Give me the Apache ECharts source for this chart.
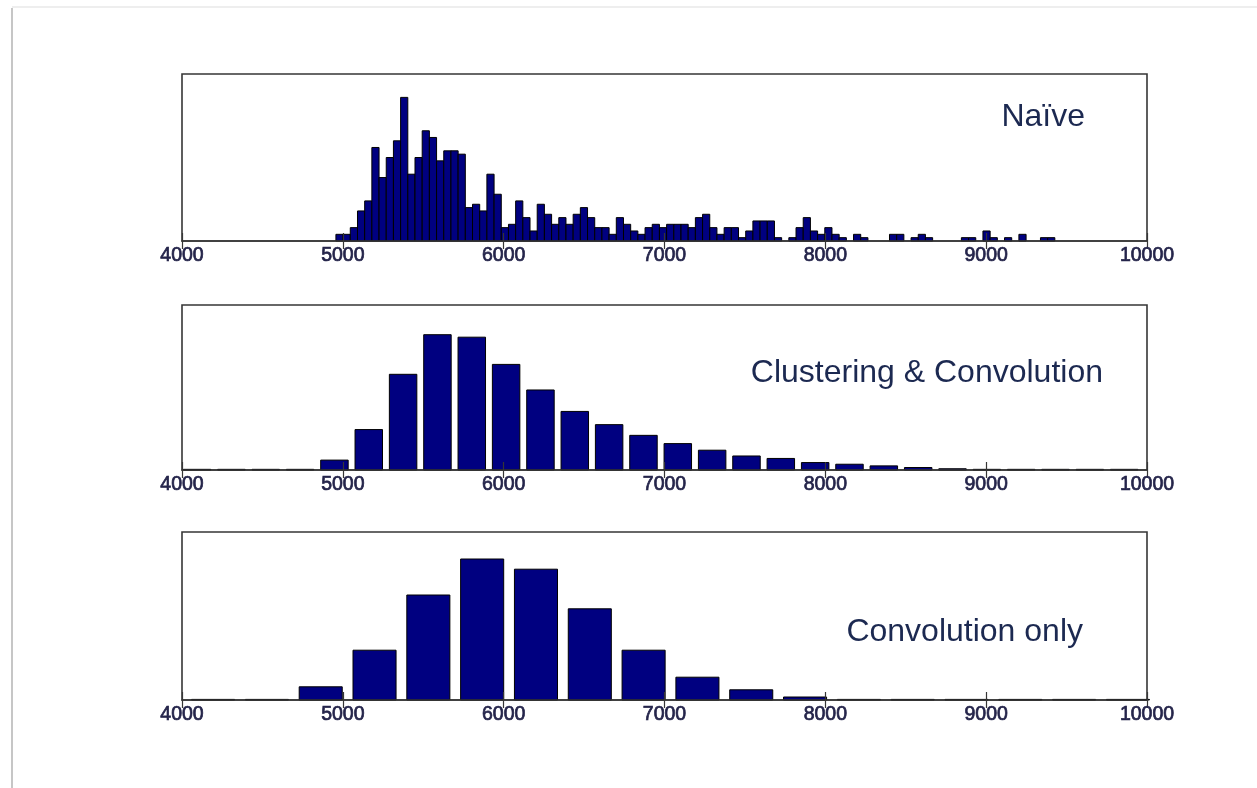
<!DOCTYPE html>
<html>
<head>
<meta charset="utf-8">
<title>Histograms</title>
<script src="https://cdn.jsdelivr.net/npm/echarts@6/dist/echarts.min.js"></script>
<style>
  html, body { margin: 0; padding: 0; background: #ffffff; }
  #chart { width: 1257px; height: 788px; }
</style>
</head>
<body>
<div id="chart"></div>
<script>
// ---- data ----
// x-axis tick values shared by all three panels
const xTicks = [4000, 5000, 6000, 7000, 8000, 9000, 10000];

// Panel 1: naive histogram, 100 bins starting at naiveStart
const naiveStart = 4957;
const naiveBinWidth = 44.7;
const naiveCounts = [
  2, 2, 4, 9, 12, 28, 19, 25, 30, 43,
  20, 25, 33, 31, 24, 27, 27, 26, 10, 11,
  9, 20, 14, 4, 5, 12, 7, 3, 11, 8,
  5, 7, 5, 8, 10, 7, 4, 4, 2, 7,
  5, 3, 2, 4, 5, 4, 5, 5, 5, 4,
  7, 8, 4, 2, 4, 4, 1, 3, 6, 6,
  6, 1, 0, 1, 4, 7, 3, 2, 4, 2,
  1, 0, 2, 1, 0, 0, 0, 2, 2, 0,
  1, 2, 1, 0, 0, 0, 0, 1, 1, 0,
  3, 1, 0, 1, 0, 2, 0, 0, 1, 1
];

// Panel 2: clustering & convolution, 28 bins
const clusterStart = 3987;
const clusterBinWidth = 213.5;
const clusterProb = [
  0.0008, 0.0008, 0.0008, 0.0008, 0.012, 0.049, 0.116, 0.164, 0.161, 0.128,
  0.097, 0.071, 0.055, 0.042, 0.032, 0.024, 0.017, 0.014, 0.009, 0.007,
  0.005, 0.003, 0.0015, 0.0008, 0.0008, 0.0008, 0.0008, 0.0008
];

// Panel 3: convolution only, 18 bins
const convStart = 4026;
const convBinWidth = 334.6;
const convProb = [
  0.001, 0.001, 0.022, 0.083, 0.175, 0.235, 0.218, 0.152, 0.083, 0.038,
  0.017, 0.005, 0.001, 0.001, 0.001, 0.001, 0.001, 0.001
];

const panelTitles = ['Naïve', 'Clustering & Convolution', 'Convolution only'];

// ---- helpers ----
function binsToData(start, width, values) {
  return values.map((v, i) => [start + width * (i + 0.5), v, width]);
}

function histRenderer(frac) {
  return function (params, api) {
    const c = api.value(0), v = api.value(1), w = api.value(2);
    if (v <= 0) return null;
    const p0 = api.coord([c - w * frac / 2, v]);
    const p1 = api.coord([c + w * frac / 2, 0]);
    return {
      type: 'rect',
      shape: { x: p0[0], y: p0[1], width: p1[0] - p0[0], height: p1[1] - p0[1] },
      style: { fill: '#000080', stroke: '#000000', lineWidth: 1 }
    };
  };
}

const panels = [
  { top: 74, height: 167, yMax: 50, data: binsToData(naiveStart, naiveBinWidth, naiveCounts), frac: 1 },
  { top: 305, height: 165, yMax: 0.2, data: binsToData(clusterStart, clusterBinWidth, clusterProb), frac: 0.8 },
  { top: 532, height: 168, yMax: 0.28, data: binsToData(convStart, convBinWidth, convProb), frac: 0.8 }
];

const axisColor = '#363636';
const labelColor = '#24244a';

const grid = [], xAxis = [], yAxis = [], series = [];
panels.forEach((p, i) => {
  grid.push({
    left: 182, right: 110, top: p.top, height: p.height,
    show: true, borderColor: axisColor, borderWidth: 1.6, backgroundColor: '#ffffff'
  });
  xAxis.push({
    type: 'value', gridIndex: i, position: 'bottom',
    min: xTicks[0], max: xTicks[xTicks.length - 1], interval: 1000, z: 10,
    axisLine: { show: true, onZero: false, lineStyle: { color: axisColor, width: 1.6 } },
    axisTick: { show: true, inside: true, length: 8, lineStyle: { color: axisColor, width: 1.2 } },
    splitLine: { show: false },
    axisLabel: {
      margin: 5, color: labelColor, fontFamily: 'Liberation Sans, Arial, sans-serif',
      fontSize: 19.5, textBorderColor: labelColor, textBorderWidth: 0.7,
      formatter: (v) => String(v)
    }
  });
  xAxis.push({
    type: 'value', gridIndex: i, position: 'top',
    min: xTicks[0], max: xTicks[xTicks.length - 1], interval: 1000, z: 10,
    axisLine: { show: false },
    axisTick: { show: true, inside: true, length: 8, lineStyle: { color: axisColor, width: 1.2 } },
    splitLine: { show: false },
    axisLabel: { show: false }
  });
  yAxis.push({
    type: 'value', gridIndex: i, min: 0, max: p.yMax, show: false
  });
  series.push({
    type: 'custom', xAxisIndex: i * 2, yAxisIndex: i,
    renderItem: histRenderer(p.frac), data: p.data, z: 2,
    encode: { x: 0, y: 1 }
  });
});

const titleFont = { fontFamily: 'Liberation Sans, Arial, sans-serif', fontSize: 32, fill: '#1c2951' };
const titlePos = [[1085, 117], [1103, 373], [1083, 632]];

const graphic = [
  // page edge shading
  { type: 'line', shape: { x1: 12, y1: 8, x2: 12, y2: 788 }, style: { stroke: '#c6c6c6', lineWidth: 2 }, z: 0 },
  { type: 'line', shape: { x1: 12, y1: 7, x2: 1257, y2: 7 }, style: { stroke: '#eeeeee', lineWidth: 2 }, z: 0 }
];
panelTitles.forEach((t, i) => {
  graphic.push({
    type: 'text', x: titlePos[i][0], y: titlePos[i][1], z: 20,
    style: Object.assign({ text: t, align: 'right', verticalAlign: 'middle' }, titleFont)
  });
});

const chart = echarts.init(document.getElementById('chart'), null, { renderer: 'canvas' });
chart.setOption({
  animation: false,
  backgroundColor: '#ffffff',
  grid: grid,
  xAxis: xAxis,
  yAxis: yAxis,
  series: series,
  graphic: graphic
});
</script>
</body>
</html>
